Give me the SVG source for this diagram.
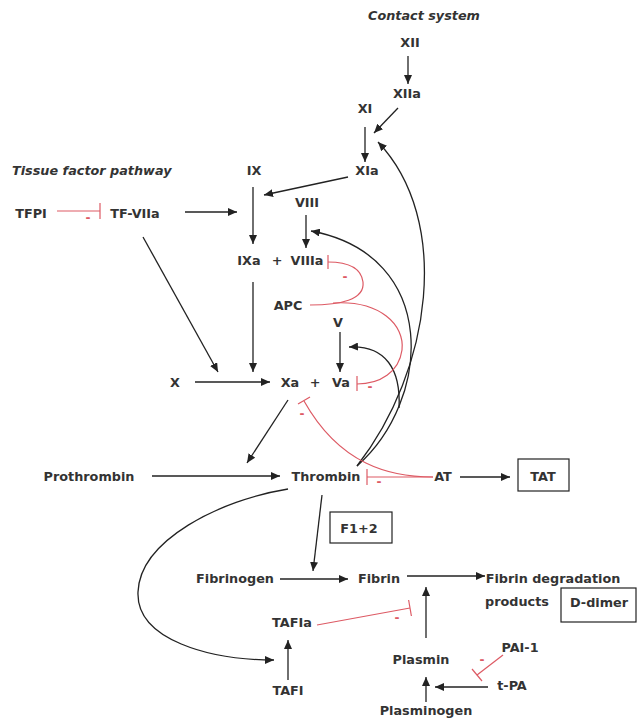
<svg xmlns="http://www.w3.org/2000/svg" width="637" height="725" viewBox="0 0 637 725">
<style>
.t{font-family:"DejaVu Sans",sans-serif;font-weight:bold;font-size:12.8px;fill:#333;text-anchor:middle}
.h{font-family:"DejaVu Sans",sans-serif;font-weight:bold;font-style:italic;font-size:12.8px;fill:#333}
.m{font-family:"DejaVu Sans",sans-serif;font-weight:bold;font-size:12px;fill:#dd5a64;text-anchor:middle}
.a{stroke:#222;stroke-width:1.3;fill:none;marker-end:url(#ah)}
.r{stroke:#dd5a64;stroke-width:1.2;fill:none}
.b{fill:none;stroke:#222;stroke-width:1.2}
</style>
<defs>
<marker id="ah" markerWidth="10" markerHeight="8" refX="9" refY="4" orient="auto" markerUnits="userSpaceOnUse"><path d="M0,0 L9,4 L0,8 z" fill="#222"/></marker>
</defs>
<rect width="637" height="725" fill="#fff"/>

<g id="connectors">
<line class="a" x1="408" y1="56" x2="408" y2="84"/>
<line class="a" x1="398" y1="108" x2="374" y2="133"/>
<line class="a" x1="365" y1="127" x2="365" y2="162"/>
<line class="a" x1="348" y1="177" x2="264" y2="195"/>
<line class="a" x1="185" y1="212" x2="237" y2="212"/>
<line class="a" x1="253" y1="187" x2="253" y2="244"/>
<line class="a" x1="306" y1="215" x2="306" y2="248"/>
<line class="a" x1="253" y1="282" x2="253" y2="372"/>
<line class="a" x1="143" y1="237" x2="218" y2="372"/>
<line class="a" x1="195" y1="382" x2="270" y2="382"/>
<line class="a" x1="340" y1="332" x2="340" y2="372"/>
<line class="a" x1="288" y1="400" x2="247" y2="463"/>
<line class="a" x1="152" y1="476" x2="280" y2="476"/>
<line class="a" x1="460" y1="477" x2="510" y2="477"/>
<line class="a" x1="322" y1="495" x2="313" y2="571"/>
<line class="a" x1="280" y1="579" x2="348" y2="579"/>
<line class="a" x1="407" y1="576" x2="485" y2="576"/>
<line class="a" x1="426" y1="638" x2="426" y2="587"/>
<line class="a" x1="426" y1="702" x2="426" y2="677"/>
<line class="a" x1="488" y1="687" x2="435" y2="687"/>
<line class="a" x1="288" y1="680" x2="288" y2="640"/>
<path class="a" d="M357,466 C432,370 452,220 378,142"/>
<path class="a" d="M357,466 C432,400 440,255 311,231"/>
<path class="a" d="M399,408 C401,370 386,345 349,347"/>
<path class="a" d="M288,489 C220,500 140,540 138,592 C136,640 210,660 274,660"/>

<line class="r" x1="57" y1="211" x2="100" y2="211"/>
<line class="r" x1="100" y1="203" x2="100" y2="219"/>
<path class="r" d="M310,305 C340,305 365,300 363,282 C361,266 345,262 328,262"/>
<line class="r" x1="328" y1="255" x2="328" y2="269"/>
<path class="r" d="M333,303 C380,300 405,325 402,350 C399,372 380,384 357,384"/>
<line class="r" x1="357" y1="376" x2="357" y2="391"/>
<path class="r" d="M433,477 C390,477 340,465 304,401"/>
<line class="r" x1="298" y1="404" x2="310" y2="397"/>
<line class="r" x1="367" y1="477" x2="433" y2="477"/>
<line class="r" x1="367" y1="469" x2="367" y2="485"/>
<line class="r" x1="317" y1="625" x2="410" y2="608"/>
<line class="r" x1="408.6" y1="600" x2="411.4" y2="616"/>
<line class="r" x1="503" y1="655" x2="477" y2="675"/>
<line class="r" x1="472" y1="669" x2="482" y2="681"/>
</g>

<g id="labels">
<text class="h" x="368" y="20">Contact system</text>
<text class="h" x="12" y="175">Tissue factor pathway</text>
</g>

<g id="XII"><text class="t" x="410" y="47">XII</text></g>
<g id="XIIa"><text class="t" x="407" y="98">XIIa</text></g>
<g id="XI"><text class="t" x="365" y="113">XI</text></g>
<g id="XIa"><text class="t" x="367" y="175">XIa</text></g>
<g id="IX"><text class="t" x="254" y="175">IX</text></g>
<g id="TFPI"><text class="t" x="31" y="218">TFPI</text></g>
<g id="TF-VIIa"><text class="t" x="135" y="218">TF-VIIa</text></g>
<g id="VIII"><text class="t" x="307" y="207">VIII</text></g>
<g id="IXa"><text class="t" x="249" y="265">IXa</text><text class="t" x="277" y="265">+</text></g>
<g id="VIIIa"><text class="t" x="307" y="265">VIIIa</text></g>
<g id="APC"><text class="t" x="288" y="310">APC</text></g>
<g id="V"><text class="t" x="338" y="327">V</text></g>
<g id="X"><text class="t" x="175" y="387">X</text></g>
<g id="Xa"><text class="t" x="290" y="387">Xa</text><text class="t" x="315" y="387">+</text></g>
<g id="Va"><text class="t" x="341" y="387">Va</text></g>
<g id="Prothrombin"><text class="t" x="89" y="481">Prothrombin</text></g>
<g id="Thrombin"><text class="t" x="326" y="481">Thrombin</text></g>
<g id="AT"><text class="t" x="443" y="481">AT</text></g>
<g id="TAT"><rect class="b" x="518" y="459" width="51" height="32"/><text class="t" x="543" y="481">TAT</text></g>
<g id="F1-2"><rect class="b" x="330" y="512" width="62" height="31"/><text class="t" x="359" y="533">F1+2</text></g>
<g id="Fibrinogen"><text class="t" x="235" y="583">Fibrinogen</text></g>
<g id="Fibrin"><text class="t" x="379" y="583">Fibrin</text></g>
<g id="FDP"><text class="t" x="553" y="583">Fibrin degradation</text><text class="t" x="517" y="606">products</text></g>
<g id="D-dimer"><rect class="b" x="561" y="588" width="75" height="34"/><text class="t" x="599" y="607">D-dimer</text></g>
<g id="TAFIa"><text class="t" x="292" y="627">TAFIa</text></g>
<g id="TAFI"><text class="t" x="288" y="695">TAFI</text></g>
<g id="Plasmin"><text class="t" x="421" y="664">Plasmin</text></g>
<g id="PAI-1"><text class="t" x="520" y="652">PAI-1</text></g>
<g id="t-PA"><text class="t" x="512" y="690">t-PA</text></g>
<g id="Plasminogen"><text class="t" x="426" y="715">Plasminogen</text></g>

<g id="minus-signs">
<text class="m" x="88" y="222">-</text>
<text class="m" x="345" y="281">-</text>
<text class="m" x="370" y="391">-</text>
<text class="m" x="302" y="418">-</text>
<text class="m" x="379" y="486">-</text>
<text class="m" x="397" y="622">-</text>
<text class="m" x="482" y="664">-</text>
</g>
</svg>
